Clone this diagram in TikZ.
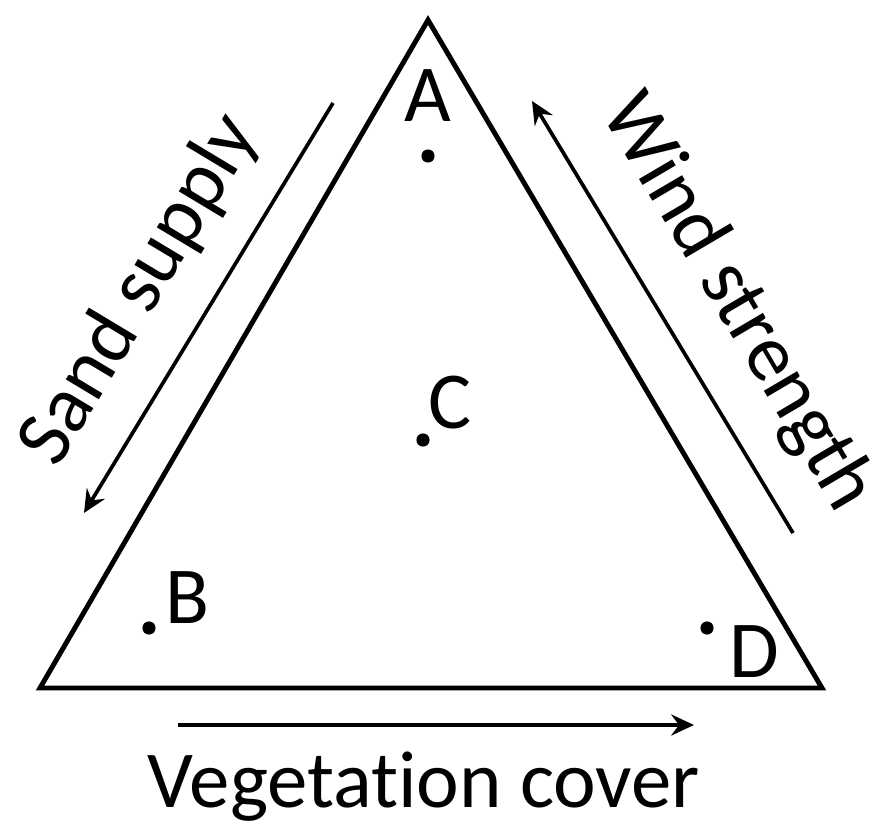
\documentclass[tikz,border=0pt]{standalone}
\usepackage{fontspec}
\setmainfont{Carlito}[Ligatures=NoCommon]
\usetikzlibrary{arrows.meta}
\begin{document}
\begin{tikzpicture}[x=0.02cm,y=-0.02cm,
  edge/.style={line width=2.8pt, line join=miter},
  arr/.style={line width=2.1pt, -{Stealth[length=13pt,width=12pt,inset=4.5pt]}},
  lbl/.style={font=\fontsize{46}{52}\selectfont, inner sep=0pt},
  pt/.style={circle, fill=black, inner sep=0pt, minimum size=7.5pt}]
\useasboundingbox (0,0) rectangle (882,832);
\coordinate (top) at (428,20);
\coordinate (bl) at (40,688);
\coordinate (br) at (822,688);
\draw[edge] (top) -- (bl) -- (br) -- cycle;
% arrows
\coordinate (s1) at (333,103);
\coordinate (s2) at (84,513);
\draw[arr] (s1) -- (s2);
\coordinate (w1) at (793,533);
\coordinate (w2) at (532,101);
\draw[arr] (w1) -- (w2);
\coordinate (v1) at (178,725);
\coordinate (v2) at (694,725);
\draw[arr] (v1) -- (v2);
% labels
\node[lbl, rotate=59] (sand) at (140,290) {Sand supply};
\node[lbl, rotate=-59.5] (wind) at (737,303) {Wind strength};
\node[lbl] (veg) at (424,787) {Vegetation cover};
% points
\node[pt] (pa) at (428,156) {};
\node[lbl] (la) at (428,96) {A};
\node[pt] (pc) at (423,440) {};
\node[lbl] (lc) at (450,403) {C};
\node[pt] (pb) at (149,628) {};
\node[lbl] (lb) at (187,598) {B};
\node[pt] (pd) at (707,628) {};
\node[lbl] (ld) at (754,652) {D};
\end{tikzpicture}
\end{document}
